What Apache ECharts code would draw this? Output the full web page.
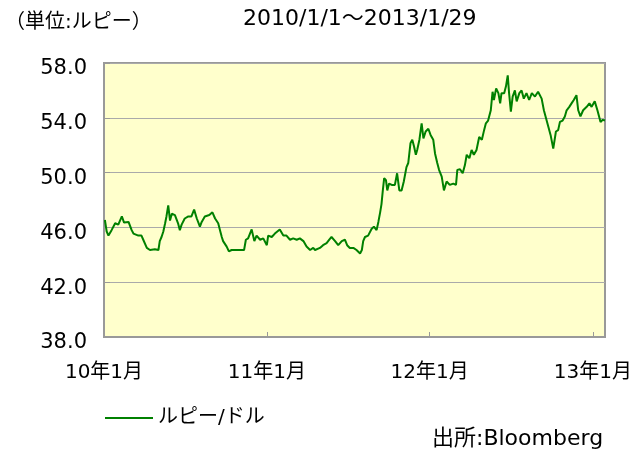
<!DOCTYPE html>
<html>
<head>
<meta charset="utf-8">
<script src="https://cdn.jsdelivr.net/npm/echarts@6/dist/echarts.min.js"></script>
<style>
	html,body{margin:0;padding:0;background:#fff;}
	#main{width:644px;height:451px;}
</style>
</head>
<body>
<div id="main"></div>
<script>
var seriesName = 'ルピー/ドル';
var dates = [
	'2010-01-03','2010-01-07','2010-01-11','2010-01-18','2010-01-26','2010-02-02','2010-02-10','2010-02-15','2010-02-25','2010-03-04',
	'2010-03-08','2010-03-19','2010-03-26','2010-03-30','2010-04-07','2010-04-14','2010-04-25','2010-05-03','2010-05-06','2010-05-10',
	'2010-05-14','2010-05-18','2010-05-21','2010-05-25','2010-05-29','2010-06-02','2010-06-09','2010-06-16','2010-06-20','2010-06-24',
	'2010-07-01','2010-07-09','2010-07-16','2010-07-22','2010-07-28','2010-08-04','2010-08-08','2010-08-15','2010-08-25','2010-09-01',
	'2010-09-07','2010-09-14','2010-09-18','2010-09-22','2010-09-25','2010-10-03','2010-10-08','2010-10-14','2010-10-22','2010-10-29',
	'2010-11-06','2010-11-11','2010-11-15','2010-11-20','2010-11-28','2010-12-04','2010-12-09','2010-12-17','2010-12-24','2011-01-01',
	'2011-01-04','2011-01-12','2011-01-19','2011-01-30','2011-02-07','2011-02-14','2011-02-22','2011-03-01','2011-03-09','2011-03-16',
	'2011-03-24','2011-03-31','2011-04-08','2011-04-15','2011-04-19','2011-04-30','2011-05-07','2011-05-15','2011-05-21','2011-05-26',
	'2011-06-03','2011-06-10','2011-06-18','2011-06-25','2011-06-30','2011-07-06','2011-07-14','2011-07-21','2011-07-29','2011-08-02',
	'2011-08-05','2011-08-09','2011-08-16','2011-08-24','2011-08-29','2011-09-04','2011-09-08','2011-09-12','2011-09-15','2011-09-18',
	'2011-09-21','2011-09-25','2011-09-28','2011-10-02','2011-10-08','2011-10-15','2011-10-20','2011-10-25','2011-10-30','2011-11-04',
	'2011-11-10','2011-11-14','2011-11-19','2011-11-23','2011-11-27','2011-12-01','2011-12-04','2011-12-09','2011-12-14','2011-12-18',
	'2011-12-23','2011-12-29','2012-01-03','2012-01-09','2012-01-13','2012-01-18','2012-01-22','2012-01-28','2012-02-02','2012-02-08',
	'2012-02-15','2012-02-23','2012-02-29','2012-03-03','2012-03-09','2012-03-15','2012-03-20','2012-03-24','2012-03-30','2012-04-04',
	'2012-04-09','2012-04-15','2012-04-21','2012-04-27','2012-05-02','2012-05-06','2012-05-11','2012-05-17','2012-05-21','2012-05-24',
	'2012-05-29','2012-06-03','2012-06-07','2012-06-10','2012-06-16','2012-06-20','2012-06-24','2012-06-27','2012-07-01','2012-07-05',
	'2012-07-10','2012-07-14','2012-07-20','2012-07-25','2012-07-30','2012-08-05','2012-08-11','2012-08-17','2012-08-24','2012-08-31',
	'2012-09-08','2012-09-13','2012-09-18','2012-09-23','2012-09-28','2012-10-04','2012-10-10','2012-10-15','2012-10-19','2012-10-25',
	'2012-10-30','2012-11-03','2012-11-09','2012-11-14','2012-11-19','2012-11-25','2012-11-29','2012-12-04','2012-12-10','2012-12-18',
	'2012-12-24','2012-12-29','2013-01-05','2013-01-11','2013-01-15','2013-01-18','2013-01-23','2013-01-28'
];
var rates = [
	46.54,45.7,45.4,45.8,46.3,46.2,46.8,46.35,46.4,45.8,
	45.55,45.4,45.4,45.1,44.5,44.35,44.4,44.35,45.0,45.3,
	45.7,46.3,46.8,47.6,46.5,47.0,46.9,46.3,45.8,46.2,
	46.65,46.8,46.8,47.3,46.65,46.05,46.4,46.8,46.9,47.1,
	46.65,46.3,45.8,45.3,45.0,44.6,44.25,44.35,44.35,44.35,
	44.35,44.35,45.1,45.2,45.85,45.0,45.4,45.1,45.2,44.7,
	45.4,45.3,45.55,45.85,45.4,45.4,45.1,45.2,45.1,45.2,
	45.0,44.6,44.35,44.5,44.35,44.5,44.7,44.85,45.1,45.3,
	45.0,44.7,45.0,45.1,44.7,44.5,44.5,44.35,44.1,44.35,
	45.0,45.3,45.4,45.9,46.05,45.8,46.4,47.1,47.7,48.7,
	49.6,49.45,48.7,49.2,49.1,49.1,49.95,48.7,48.7,49.35,
	50.4,50.7,52.15,52.4,51.9,51.3,51.65,52.4,53.6,52.5,
	53.0,53.2,52.75,52.4,51.4,50.7,50.2,49.7,48.7,49.35,
	49.1,49.2,49.1,50.2,50.25,49.95,50.55,51.3,51.05,51.65,
	51.3,51.65,52.6,52.4,53.1,53.6,53.8,54.55,55.9,55.3,
	56.15,55.8,55.05,55.8,55.8,56.3,57.1,55.8,54.45,55.55,
	56.0,55.2,55.8,56.0,55.4,55.8,55.3,55.8,55.55,55.9,
	55.4,54.55,53.95,53.35,52.75,51.75,53.0,53.1,53.7,53.8,
	54.1,54.55,54.8,55.05,55.3,55.65,54.55,54.1,54.55,54.8,
	55.05,54.8,55.2,54.55,54.55,53.7,53.85,53.8
];
var tickDates = ['2010-01-01','2011-01-01','2012-01-01','2013-01-01'];
var tickLabels = ['10年1月','11年1月','12年1月','13年1月'];
var unitText = '（単位:ルピー）';
var periodText = '2010/1/1〜2013/1/29';
var sourceText = '出所:Bloomberg';

var font = 'DejaVu Sans, "Noto Sans CJK JP", sans-serif';

function toTime(s){
	var p = s.split('-');
	return Date.UTC(+p[0], +p[1]-1, +p[2]);
}

var lineData = [];
for(var i=0;i<dates.length;i++){
	lineData.push([toTime(dates[i]), rates[i]]);
}
var tickTimes = tickDates.map(toTime);

var myChart = echarts.init(document.getElementById('main'));
var option = {
	animation:false,
	backgroundColor:'#fff',
	textStyle:{fontFamily:font},
	grid:{
		left:104, right:39, top:63, bottom:114,
		show:true,
		backgroundColor:'#FFFFCC',
		borderColor:'#999',
		borderWidth:2
	},
	graphic:[
		{type:'text',left:5,top:13,style:{text:unitText,fontSize:20,fontFamily:font,fill:'#000'}},
		{type:'text',left:243,top:8,style:{text:periodText,fontSize:22,fontFamily:font,fill:'#000'}},
		{type:'text',left:432,top:428,style:{text:sourceText,fontSize:22,fontFamily:font,fill:'#000'}}
	],
	legend:{
		left:100,
		top:403,
		data:[seriesName],
		icon:'rect',
		itemWidth:48,
		itemHeight:2,
		itemGap:10,
		textStyle:{fontSize:20,color:'#000',fontFamily:font}
	},
	xAxis:{
		type:'value',
		min:toTime('2010-01-01'),
		max:toTime('2013-01-28'),
		splitLine:{show:false},
		axisLine:{show:true,lineStyle:{color:'#999',width:2}},
		axisTick:{show:true,inside:true,length:5,lineStyle:{color:'#999'},customValues:tickTimes},
		axisLabel:{
			margin:26,
			fontSize:20,
			color:'#000',
			fontFamily:font,
			customValues:tickTimes,
			formatter:function(v){
				var idx = tickTimes.indexOf(v);
				return idx >= 0 ? tickLabels[idx] : '';
			}
		}
	},
	yAxis:{
		type:'value',
		min:38,
		max:58,
		interval:4,
		axisLine:{show:true,lineStyle:{color:'#999',width:2}},
		axisTick:{show:true,inside:true,length:6,lineStyle:{color:'#999'}},
		splitLine:{lineStyle:{color:'#aaa',width:1}},
		axisLabel:{
			margin:17,
			fontSize:21,
			color:'#000',
			fontFamily:font,
			verticalAlign:'top',
			lineHeight:12,
			formatter:function(v){return v.toFixed(1);}
		}
	},
	series:[{
		name:seriesName,
		type:'line',
		data:lineData,
		showSymbol:false,
		symbol:'none',
		itemStyle:{color:'#008000'},
		lineStyle:{color:'#008000',width:2}
	}]
};
myChart.setOption(option);
</script>
</body>
</html>
